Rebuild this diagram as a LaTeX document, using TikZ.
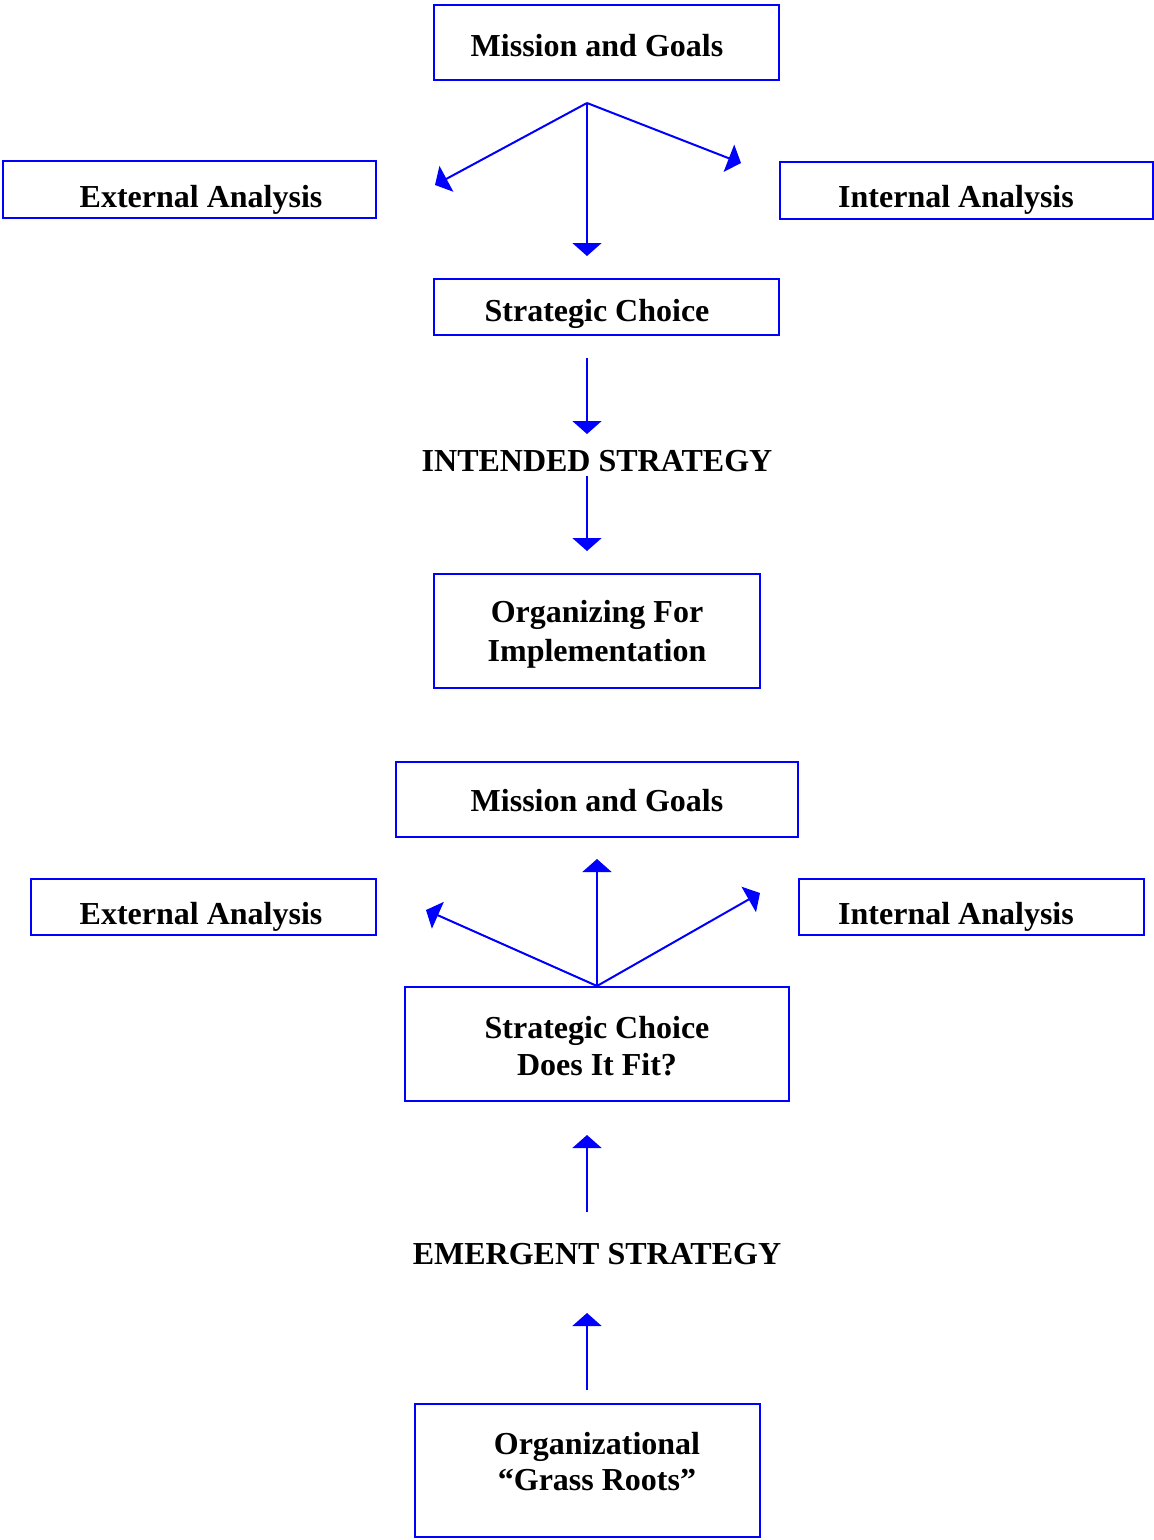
\documentclass[tikz,border=0pt]{standalone}
\usepackage{fontspec}
\setmainfont{Liberation Serif}
\usetikzlibrary{arrows.meta}
\definecolor{pureblue}{RGB}{0,0,255}
\tikzset{
  box/.style={draw=pureblue, line width=2pt, rectangle, inner sep=0pt},
  lbl/.style={anchor=base, inner sep=0pt, font=\bfseries\fontsize{32}{37}\selectfont},
  flow/.style={draw=pureblue, line width=2pt, -{Triangle[width=29pt,length=13pt]}},
}
\begin{document}
\begin{tikzpicture}[x=1pt,y=-1pt]
\useasboundingbox (0,0) rectangle (1154,1540);

% ---------- intended strategy ----------
\node[box, minimum width=345, minimum height=75] (mg1) at (606.5,42.5) {};
\node[lbl] (mg1t) at (597,56) {Mission and Goals};
\node[box, minimum width=373, minimum height=57] (ea1) at (189.5,189.5) {};
\node[lbl] (ea1t) at (201,207) {External Analysis};
\node[box, minimum width=373, minimum height=57] (ia1) at (966.5,190.5) {};
\node[lbl] (ia1t) at (956,207) {Internal Analysis};
\node[box, minimum width=345, minimum height=56] (sc1) at (606.5,307) {};
\node[lbl] (sc1t) at (597,321) {Strategic Choice};
\node[lbl] (is) at (597,471) {INTENDED STRATEGY};
\node[box, minimum width=326, minimum height=114] (oi) at (597,631) {};
\node[lbl] (oit1) at (597,622) {Organizing For};
\node[lbl] (oit2) at (597,661) {Implementation};

\coordinate (hub1) at (587,103);
\coordinate (h1l) at (435,185);
\coordinate (h1r) at (741,163);
\coordinate (h1d) at (587,256);
\draw[flow] (hub1) -- (h1l);
\draw[flow] (hub1) -- (h1r);
\draw[flow] (hub1) -- (h1d);

\coordinate (a1s) at (587,358);
\coordinate (a1e) at (587,434);
\coordinate (a2s) at (587,476);
\coordinate (a2e) at (587,551);
\draw[flow] (a1s) -- (a1e);
\draw[flow] (a2s) -- (a2e);

% ---------- emergent strategy ----------
\node[box, minimum width=402, minimum height=75] (mg2) at (597,799.5) {};
\node[lbl] (mg2t) at (597,811) {Mission and Goals};
\node[box, minimum width=345, minimum height=56] (ea2) at (203.5,907) {};
\node[lbl] (ea2t) at (201,924) {External Analysis};
\node[box, minimum width=345, minimum height=56] (ia2) at (971.5,907) {};
\node[lbl] (ia2t) at (956,924) {Internal Analysis};
\node[box, minimum width=384, minimum height=114] (sc2) at (597,1044) {};
\node[lbl] (sc2t1) at (597,1038) {Strategic Choice};
\node[lbl] (sc2t2) at (597,1075) {Does It Fit?};
\node[lbl] (es) at (597,1264) {EMERGENT STRATEGY};
\node[box, minimum width=345, minimum height=133] (gr) at (587.5,1470.5) {};
\node[lbl] (grt1) at (597,1454) {Organizational};
\node[lbl] (grt2) at (597,1490) {“Grass Roots”};

\coordinate (hub2) at (597,986);
\coordinate (h2u) at (597,859);
\coordinate (h2l) at (426,910);
\coordinate (h2r) at (760,893);
\draw[flow] (hub2) -- (h2u);
\draw[flow] (hub2) -- (h2l);
\draw[flow] (hub2) -- (h2r);

\coordinate (a3s) at (587,1212);
\coordinate (a3e) at (587,1135);
\coordinate (a4s) at (587,1390);
\coordinate (a4e) at (587,1313);
\draw[flow] (a3s) -- (a3e);
\draw[flow] (a4s) -- (a4e);
\end{tikzpicture}
\end{document}
